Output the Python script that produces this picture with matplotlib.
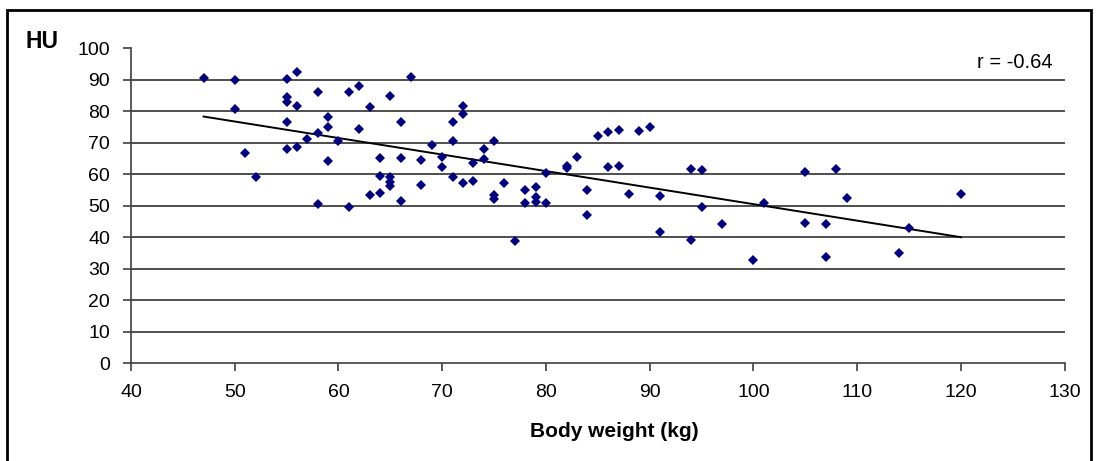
import matplotlib.pyplot as plt
import numpy as np
from matplotlib.patches import Rectangle

# Масса тела (кг) и плотность (HU) для каждого пациента
body_weight = [
    47, 50, 50, 51, 52, 55, 55, 55, 55, 55, 56, 56, 56, 57, 58, 58, 58, 59, 59, 59,
    60, 61, 61, 62, 62, 63, 63, 64, 64, 64, 65, 65, 65, 65, 66, 66, 66, 67, 68, 68,
    69, 70, 70, 71, 71, 71, 72, 72, 72, 73, 73, 74, 74, 75, 75, 75, 76, 77, 78, 78,
    79, 79, 79, 80, 80, 82, 82, 83, 84, 84, 85, 86, 86, 87, 87, 88, 89, 90, 91, 91,
    94, 94, 95, 95, 97, 100, 101, 105, 105, 107, 107, 108, 109, 114, 115, 120,
]
hu_values = [
    90.5, 90.0, 80.6, 66.7, 59.0, 90.3, 84.6, 83.0, 76.7, 67.9, 92.6, 81.8, 68.6, 71.1, 86.0, 73.2, 50.6, 78.3, 74.9, 64.3,
    70.5, 86.0, 49.7, 88.1, 74.5, 81.4, 53.5, 65.3, 59.5, 54.2, 85.0, 59.0, 57.7, 56.3, 76.7, 65.3, 51.6, 90.8, 64.4, 56.6,
    69.4, 65.4, 62.4, 76.7, 70.7, 59.3, 81.8, 79.1, 57.3, 63.5, 57.8, 68.2, 64.8, 70.7, 53.6, 52.1, 57.2, 38.8, 55.0, 51.0,
    56.0, 52.9, 51.3, 60.3, 51.0, 62.6, 61.9, 65.6, 54.9, 47.1, 72.1, 73.5, 62.4, 74.2, 62.6, 53.8, 73.8, 74.9, 53.1, 41.7,
    61.6, 39.1, 61.4, 49.6, 44.3, 32.7, 50.8, 60.6, 44.6, 44.3, 33.8, 61.6, 52.6, 35.1, 43.0, 53.8,
]
x_ticks = [40, 50, 60, 70, 80, 90, 100, 110, 120, 130]
y_ticks = [0, 10, 20, 30, 40, 50, 60, 70, 80, 90, 100]
r_label = "r = -0.64"

plt.rcParams["font.family"] = ["Liberation Sans", "DejaVu Sans"]

fig = plt.figure(figsize=(11.01, 4.61), dpi=100)
ax = fig.add_axes([0.119, 0.212, 0.848, 0.683])

# Горизонтальная сетка (без линии на 100)
for y in y_ticks[1:-1]:
    ax.axhline(y, color="#404040", linewidth=1.3, zorder=1)

ax.plot(body_weight, hu_values, linestyle="none", marker="D", markersize=5.3,
        markeredgewidth=0, color="#000080", zorder=3)

# Линейный тренд
xs = np.array(body_weight, dtype=float)
ys = np.array(hu_values, dtype=float)
k, b = np.polyfit(xs, ys, 1)
line_x = np.array([xs.min(), xs.max()])
ax.plot(line_x, k * line_x + b, color="black", linewidth=1.4, zorder=2)

ax.set_xlim(40, 130)
ax.set_ylim(0, 100)
ax.set_xticks(x_ticks)
ax.set_yticks(y_ticks)
ax.tick_params(direction="out", length=6, width=1.2, color="#404040", labelsize=14)
ax.tick_params(axis="y", pad=9)
ax.tick_params(axis="x", pad=9)
for side in ["top", "right"]:
    ax.spines[side].set_visible(False)
for side in ["left", "bottom"]:
    ax.spines[side].set_color("#404040")
    ax.spines[side].set_linewidth(1.2)

ax.text(0.987, 0.956, r_label, transform=ax.transAxes, ha="right", va="center", fontsize=14.5)
fig.text(0.023, 0.91, "HU", fontsize=16.5, fontweight="bold", ha="left", va="center")
fig.text(0.558, 0.065, "Body weight (kg)", fontsize=15, fontweight="bold", ha="center", va="center")

# Рамка вокруг рисунка
fig.patches.append(Rectangle((0.0065, -0.05), 0.984, 1.028, transform=fig.transFigure,
                             fill=False, edgecolor="black", linewidth=2))

fig.savefig("out.png", dpi=100)
